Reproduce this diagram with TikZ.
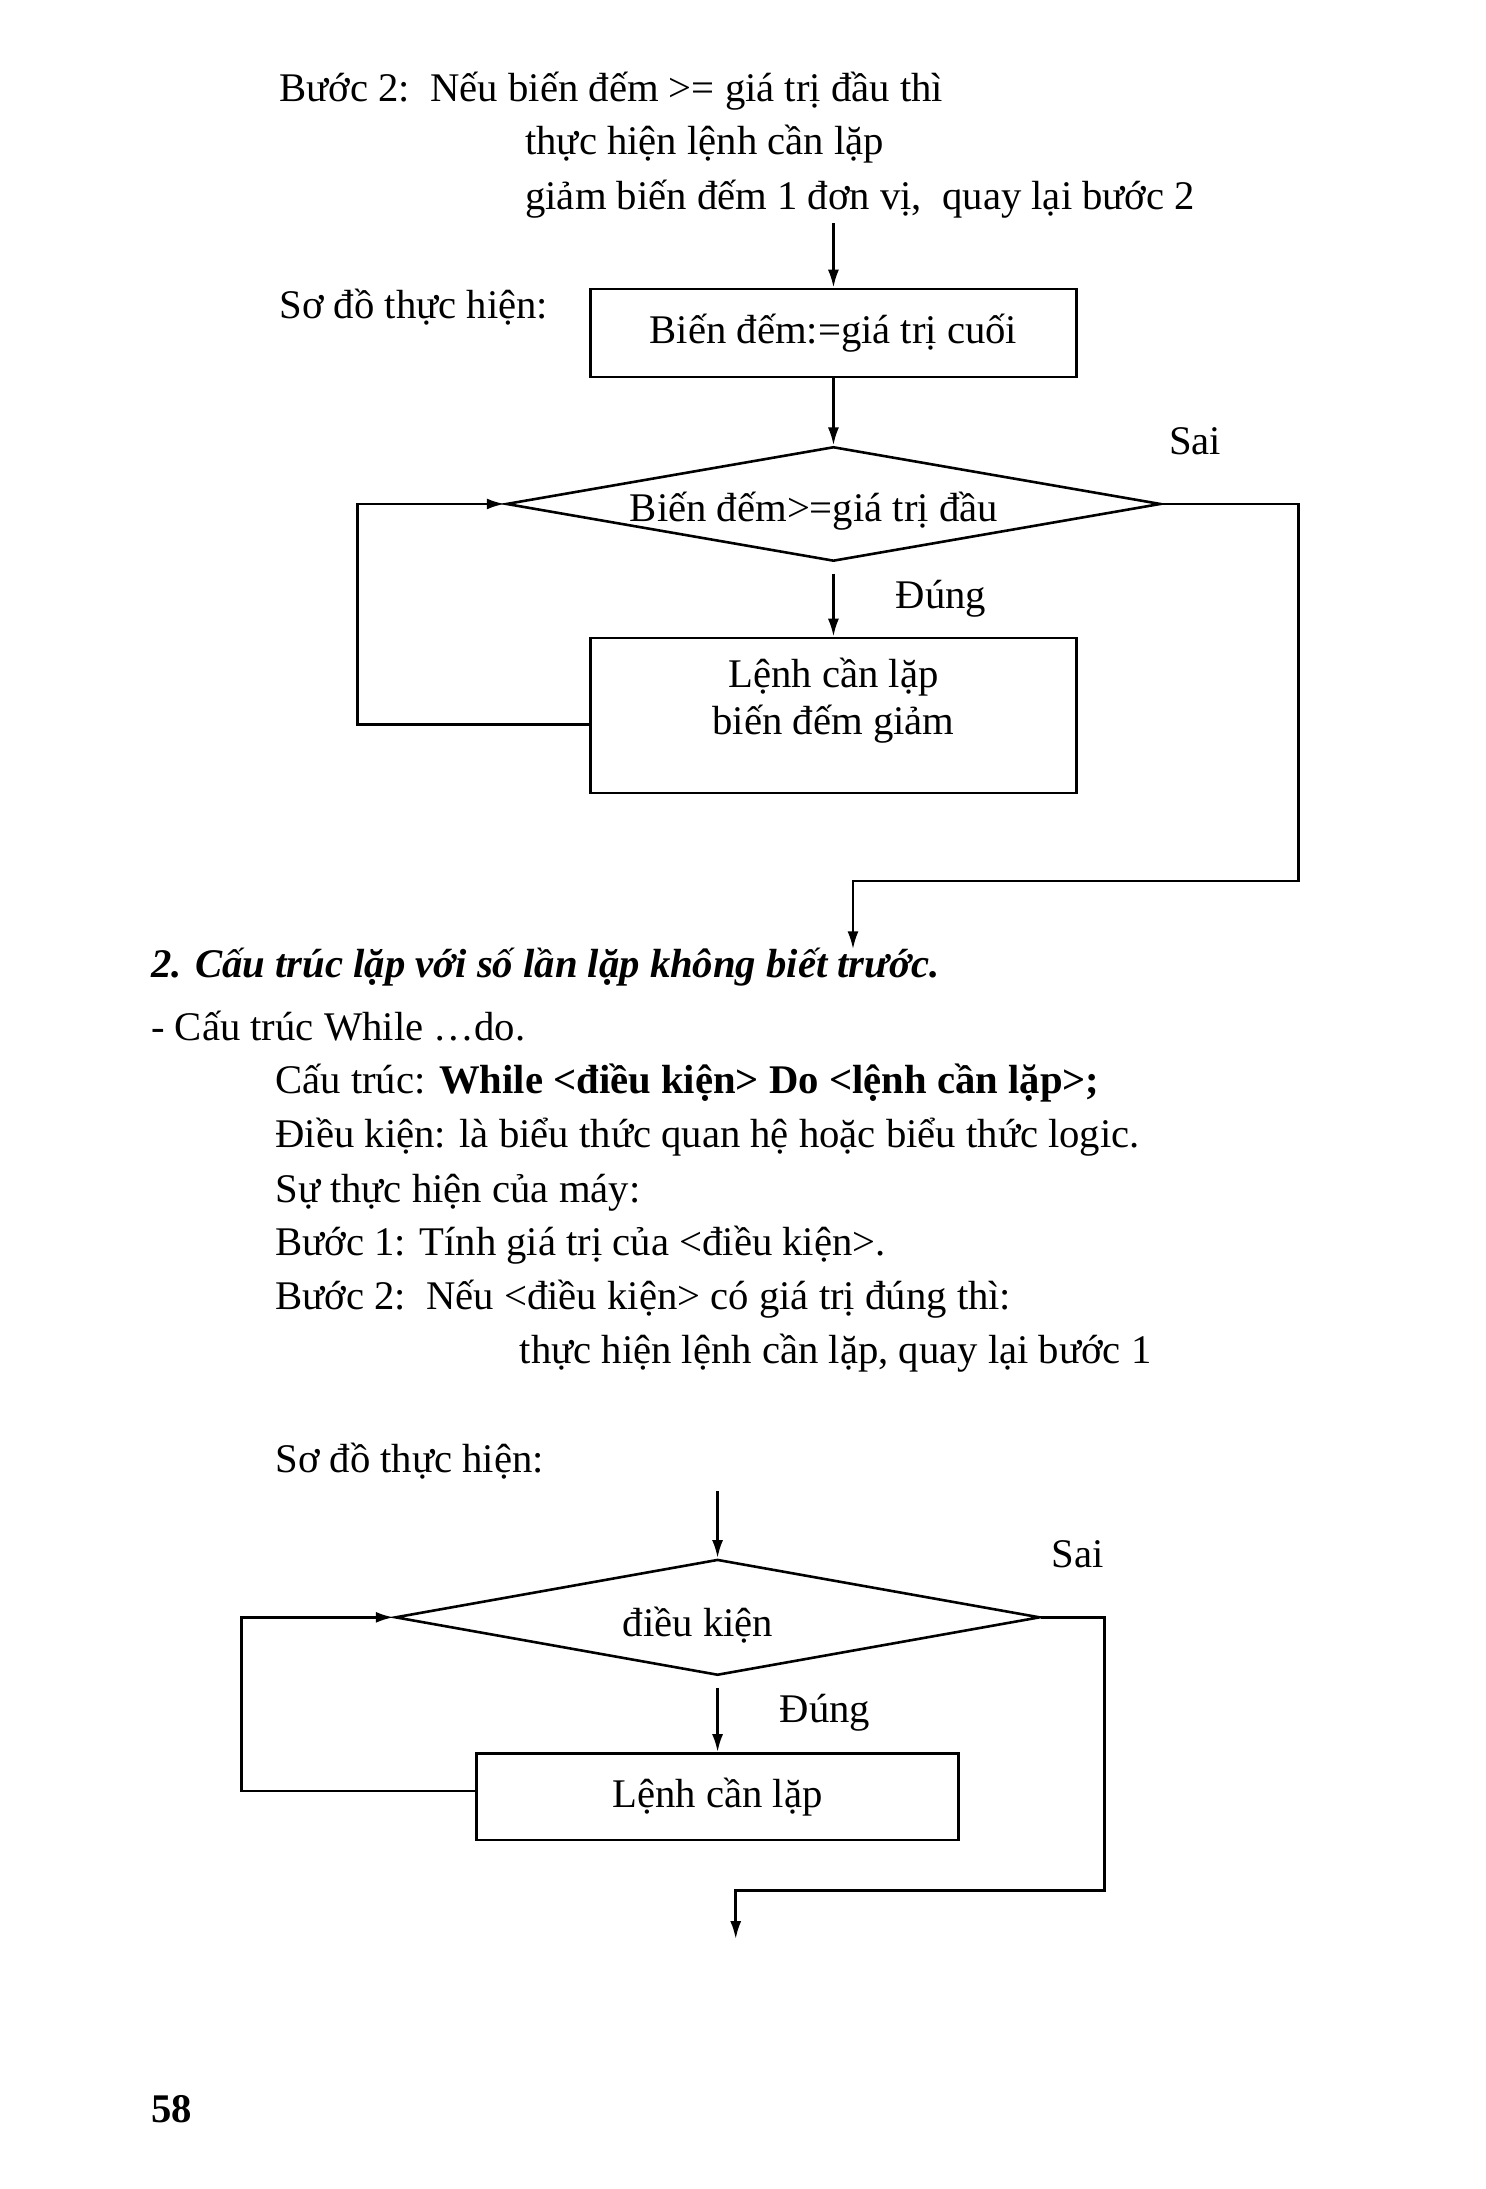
\documentclass[tikz,border=0pt]{standalone}
\usepackage{fontspec}
\setmainfont{Liberation Serif}
\usetikzlibrary{arrows.meta,shapes.geometric}
\begin{document}
\begin{tikzpicture}[x=0.7pt,y=-0.7pt,
  every node/.style={inner sep=0pt, font=\fontsize{20.4}{27}\selectfont},
  txt/.style={anchor=base west},
  box/.style={draw, rectangle, line width=1.3pt},
  dec/.style={draw, diamond, line width=1.3pt, inner sep=0pt},
  conn/.style={line width=1.3pt},
  arr/.style={conn, -{Latex[length=9pt,width=5.5pt]}}]
\useasboundingbox[fill=white] (0,0) rectangle (1064,1568);

% ---------- text, top ----------
\node[txt] (l1) at (200,73) {Bước 2:\ \ Nếu biến đếm >= giá trị đầu thì};
\node[txt] (l2) at (376,111) {thực hiện lệnh cần lặp};
\node[txt] (l3) at (376,150) {giảm biến đếm 1 đơn vị,\ \ quay lại bước 2};
\node[txt] (l4) at (200,228) {Sơ đồ thực hiện:};

% ---------- flowchart 1 ----------
\coordinate (s1) at (597,160);
\node[box, minimum width=243.6pt, minimum height=44.1pt] (b1) at (597,238.5) {Biến đếm:=giá trị cuối};
\node[dec, minimum width=328.3pt, minimum height=57.4pt] (d1) at (597,361) {};
\node (d1t) at (583,366) {Biến đếm>=giá trị đầu};
\node[box, minimum width=243.6pt, minimum height=77.7pt] (b2) at (597,512.5) {};
\node[align=center, font=\fontsize{20.4}{23.8}\selectfont] (t2) at (597,502) {Lệnh cần lặp\\biến đếm giảm};
\node (sai1) at (856,316) {Sai};
\node (dung1) at (674,429) {Đúng};

\draw[arr] (s1) -- (b1.north);
\draw[arr] (b1.south) -- (d1.north);
\draw[arr] ([yshift=-5.6pt]d1.south) -- (b2.north);
\coordinate (lp1) at (256,519);
\draw[arr] (b2.west |- lp1) -- (lp1) |- (d1.west);
\coordinate (r1) at (930,631);
\coordinate (e1) at (611,680);
\draw[arr] (d1.east) -| (r1) -| (e1);

% ---------- text, middle ----------
\node[txt, font=\fontsize{20.4}{27}\selectfont\bfseries\itshape] (h2) at (108,700) {2. Cấu trúc lặp với số lần lặp không biết trước.};
\node[txt] (m1) at (108,745) {- Cấu trúc While …do.};
\node[txt] (m2) at (197,783) {Cấu trúc: \textbf{While <điều kiện> Do <lệnh cần lặp>;}};
\node[txt] (m3) at (197,822) {Điều kiện: là biểu thức quan hệ hoặc biểu thức logic.};
\node[txt] (m4) at (197,861) {Sự thực hiện của máy:};
\node[txt] (m5) at (197,899) {Bước 1: Tính giá trị của <điều kiện>.};
\node[txt] (m6) at (197,938) {Bước 2:\ \ Nếu <điều kiện> có giá trị đúng thì:};
\node[txt] (m7) at (372,977) {thực hiện lệnh cần lặp, quay lại bước 1};
\node[txt] (m8) at (197,1055) {Sơ đồ thực hiện:};

% ---------- flowchart 2 ----------
\coordinate (s2) at (514,1068);
\node[dec, minimum width=323.4pt, minimum height=58.1pt] (d2) at (514,1158.5) {};
\node (d2t) at (500,1164) {điều kiện};
\node[box, minimum width=241.5pt, minimum height=43.4pt] (b3) at (514,1287) {Lệnh cần lặp};
\node (sai2) at (772,1113) {Sai};
\node (dung2) at (591,1227) {Đúng};

\draw[arr] (s2) -- (d2.north);
\draw[arr] ([yshift=-5.6pt]d2.south) -- (b3.north);
\coordinate (lp2) at (173,1283);
\draw[arr] (b3.west |- lp2) -- (lp2) |- (d2.west);
\coordinate (r2) at (791,1354);
\coordinate (e2) at (527,1389);
\draw[arr] (d2.east) -| (r2) -| (e2);

% ---------- page number ----------
\node[txt, font=\fontsize{20.4}{27}\selectfont\bfseries] (pg) at (108,1520) {58};
\end{tikzpicture}
\end{document}
